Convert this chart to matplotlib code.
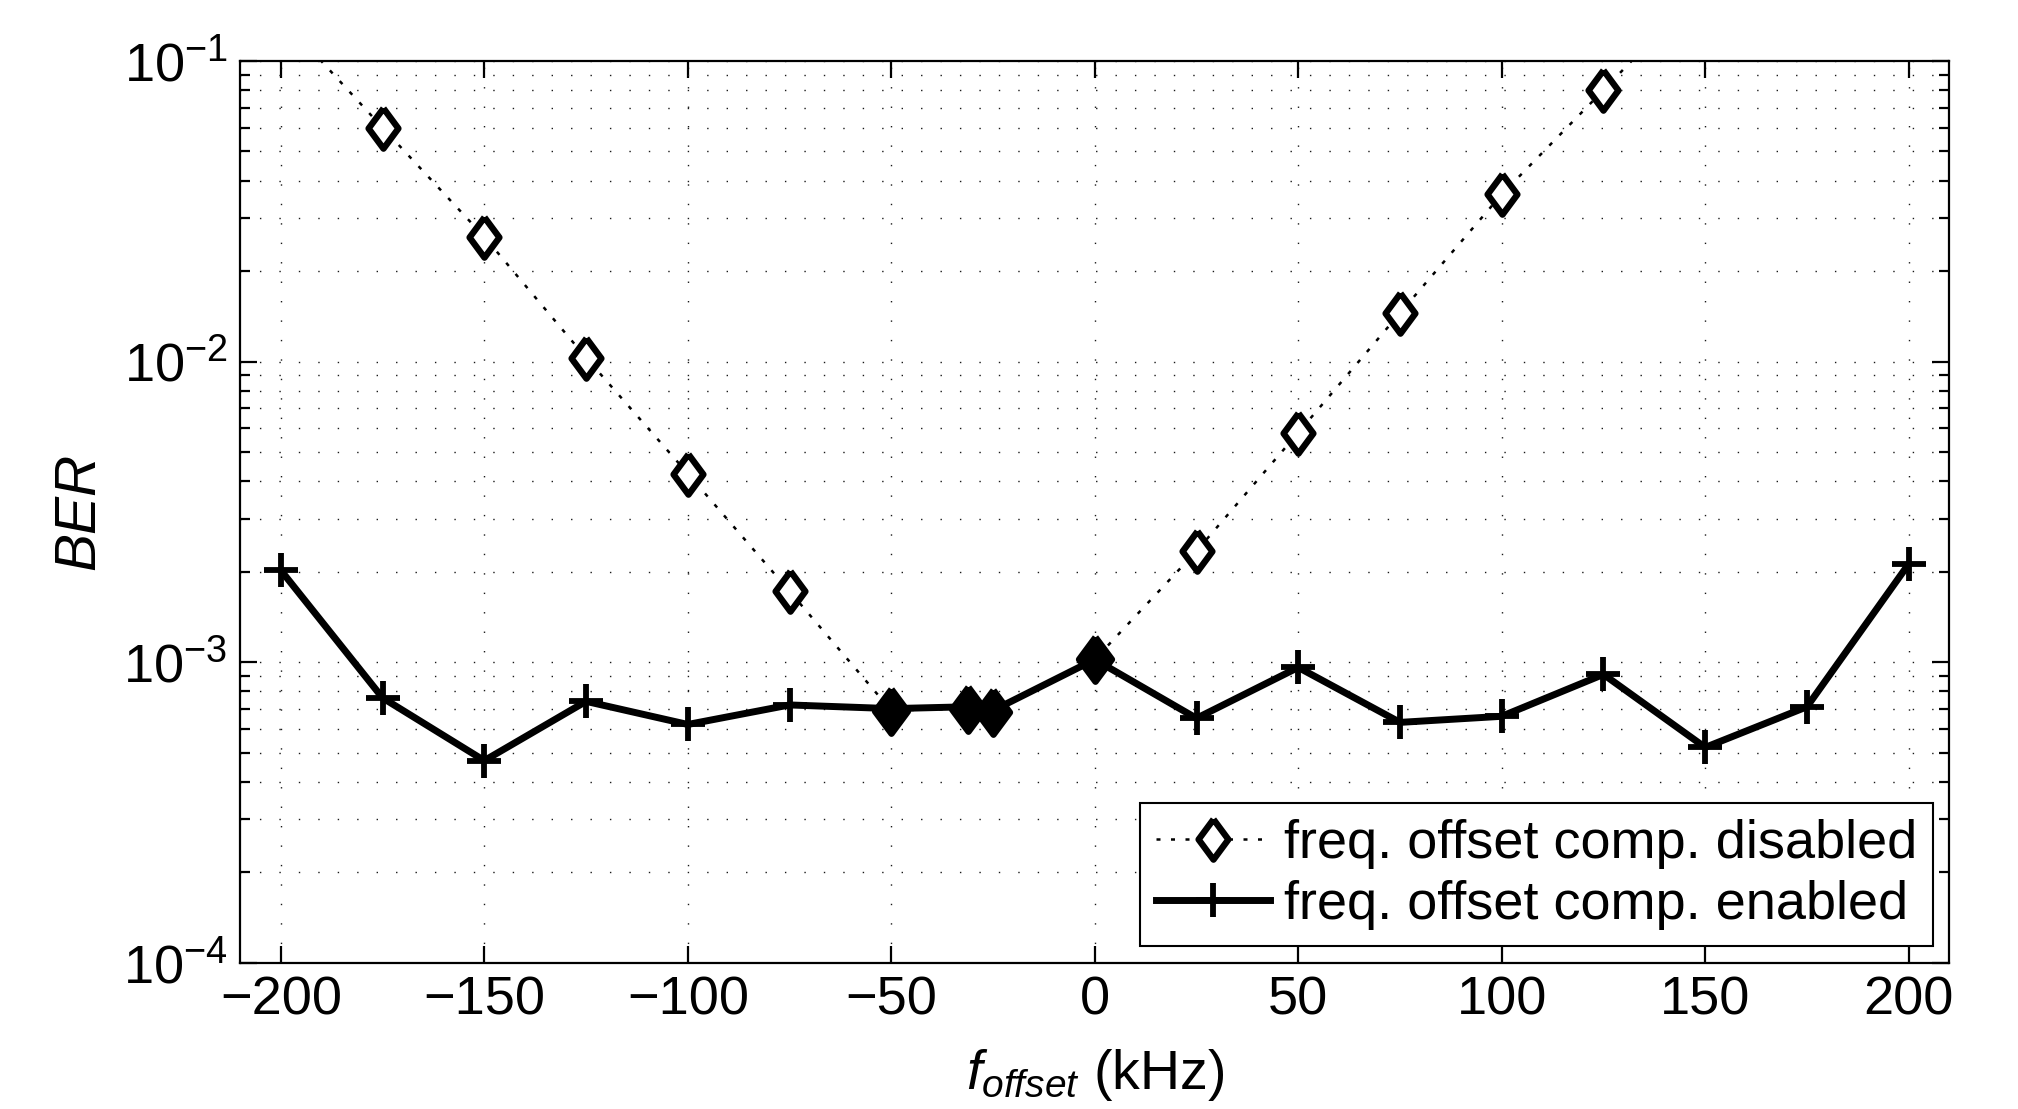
import matplotlib
matplotlib.use("Agg")
from matplotlib import pyplot as plt
from matplotlib.ticker import LogLocator, NullLocator

# BER versus frequency offset
f_disabled = [-200, -175, -150, -125, -100, -75, -50, -31.25, -25, 0, 25, 50, 75, 100, 125, 150]
ber_disabled = [0.14, 0.060, 0.026, 0.0103, 0.00424, 0.00172, 0.00069, 0.00070, 0.00068,
                0.00102, 0.00234, 0.0058, 0.0145, 0.036, 0.080, 0.18]

f_enabled = [-200, -175, -150, -125, -100, -75, -50, -31.25, -25, 0, 25, 50, 75, 100, 125, 150, 175, 200]
ber_enabled = [0.00202, 0.00076, 0.00047, 0.00074, 0.00062, 0.00072, 0.00070, 0.00071, 0.00069,
               0.00102, 0.00065, 0.00096, 0.00063, 0.00066, 0.00091, 0.00052, 0.00071, 0.00212]

labels = ["freq. offset comp. disabled", "freq. offset comp. enabled"]
xticks = [-200, -150, -100, -50, 0, 50, 100, 150, 200]

plt.rcParams["font.family"] = ["Liberation Sans", "DejaVu Sans"]
plt.rcParams["mathtext.fontset"] = "custom"
plt.rcParams["mathtext.rm"] = "Liberation Sans"
plt.rcParams["mathtext.it"] = "Liberation Sans:italic"
plt.rcParams["axes.unicode_minus"] = True

FS = 39

fig = plt.figure(figsize=(20.18, 11.09), dpi=100)
ax = fig.add_subplot(111)
fig.subplots_adjust(left=0.119, right=0.966, bottom=0.132, top=0.945)

# a MATLAB-like diamond, a bit narrower than tall
diamond = [(0, 1), (0.74, 0), (0, -1), (-0.74, 0), (0, 1)]

ax.plot(f_disabled, ber_disabled, color="k", lw=1.8, linestyle=(0, (1.6, 4.2)),
        marker=diamond, markersize=29, markeredgewidth=4.6,
        markerfacecolor="white", markeredgecolor="k", label=labels[0], zorder=3)

# where both curves meet, the diamonds look solid under the thick line
both = dict(zip(f_enabled, ber_enabled))
f_same = [f for f, b in zip(f_disabled, ber_disabled) if f in both and abs(b / both[f] - 1) < 0.05]
b_same = [b for f, b in zip(f_disabled, ber_disabled) if f in both and abs(b / both[f] - 1) < 0.05]
ax.plot(f_same, b_same, linestyle="none", marker=diamond, markersize=32,
        markeredgewidth=4.6, color="k", zorder=3.5)

ax.plot(f_enabled, ber_enabled, color="k", lw=5, marker="+",
        markersize=24, markeredgewidth=4.2, label=labels[1], zorder=4)

ax.set_yscale("log")
ax.set_xlim(-210, 210)
ax.set_ylim(1e-4, 1e-1)
ax.set_xticks(xticks)
ax.xaxis.set_minor_locator(NullLocator())
ax.yaxis.set_major_locator(LogLocator(base=10, numticks=10))
ax.yaxis.set_minor_locator(LogLocator(base=10, subs=range(2, 10), numticks=30))

dots = (0, (1, 13))
ax.grid(True, which="major", axis="both", color="0.1", lw=1.0, linestyle=dots)
ax.grid(True, which="minor", axis="y", color="0.1", lw=1.0, linestyle=dots)
ax.set_axisbelow(True)

ax.tick_params(which="both", direction="in", top=True, right=True, width=1.6, labelsize=FS)
ax.tick_params(which="major", length=12, pad=9)
ax.tick_params(which="minor", length=7)
for s in ax.spines.values():
    s.set_linewidth(1.6)

ax.set_ylabel("BER", fontsize=FS + 2, fontstyle="italic", labelpad=12)
ax.set_xlabel(r"$f_{offset}$ (kHz)", fontsize=FS + 1, labelpad=16)

leg = ax.legend(loc="lower right", fontsize=FS, frameon=True, fancybox=False,
                edgecolor="k", framealpha=1, handlelength=2.1, handletextpad=0.25,
                borderpad=0.3, labelspacing=0.2, borderaxespad=0.3)
leg.get_frame().set_linewidth(1.5)

fig.savefig("out.png", dpi=100)
